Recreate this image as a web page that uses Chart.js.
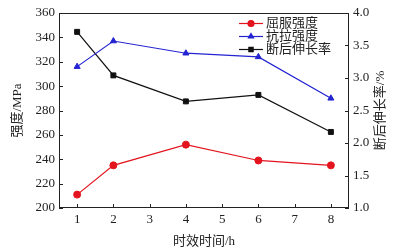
<!DOCTYPE html>
<html lang="zh-CN">
<head>
<meta charset="UTF-8">
<title>时效时间与力学性能</title>
<script src="https://cdn.jsdelivr.net/npm/chart.js"></script>
<style>
  html, body { margin:0; padding:0; background:#fff; }
  #wrap { width:399px; height:249px; }
</style>
</head>
<body>
<div id="wrap"><canvas id="chart" width="399" height="249"></canvas></div>
<script>
// 数据
const agingHours      = [1, 2, 4, 6, 8];
const yieldStrength   = [211, 235, 252, 239, 235];
const tensileStrength = [316, 337, 327, 324, 290];
const elongation      = [3.71, 3.04, 2.64, 2.74, 2.17];
const xTicks          = [1, 2, 3, 4, 5, 6, 7, 8];
const seriesNames     = ['屈服强度', '抗拉强度', '断后伸长率'];

const RED = '#e3141e', BLUE = '#2323d2', BLACK = '#111';
const SERIF = "'Liberation Serif', 'Noto Sans CJK SC', serif";
const CJK = "'Liberation Serif', 'Noto Sans CJK SC', sans-serif";

const pts = ys => agingHours.map((x, i) => ({ x: x, y: ys[i] }));

// 边框、内向刻度、右轴标题、图例
const framePlugin = {
  id: 'frame',
  afterDraw(chart) {
    const ctx = chart.ctx, a = chart.chartArea;
    const sx = chart.scales.x, sy = chart.scales.y, sy1 = chart.scales.y1;
    ctx.save();
    ctx.strokeStyle = '#222';
    ctx.lineWidth = 1;
    ctx.strokeRect(a.left + 0.5, a.top + 0.5, a.right - a.left - 1, a.bottom - a.top - 1);
    ctx.beginPath();
    sx.ticks.forEach(t => {
      const px = Math.round(sx.getPixelForValue(t.value)) + 0.5;
      ctx.moveTo(px, a.bottom); ctx.lineTo(px, a.bottom - 4);
    });
    sy.ticks.forEach(t => {
      const py = Math.round(sy.getPixelForValue(t.value)) + 0.5;
      ctx.moveTo(a.left, py); ctx.lineTo(a.left + 4, py);
    });
    sy1.ticks.forEach(t => {
      const py = Math.round(sy1.getPixelForValue(t.value)) + 0.5;
      ctx.moveTo(a.right, py); ctx.lineTo(a.right - 4, py);
    });
    ctx.stroke();

    // 右轴标题
    ctx.fillStyle = '#222';
    ctx.font = '13px ' + CJK;
    ctx.textAlign = 'center';
    ctx.textBaseline = 'middle';
    ctx.translate(381, (a.top + a.bottom) / 2);
    ctx.rotate(-Math.PI / 2);
    ctx.fillText('断后伸长率/%', 0, 0);
    ctx.restore();

    // 图例
    ctx.save();
    const rows = [23, 36, 49];
    chart.data.datasets.forEach((ds, i) => {
      const y = rows[i] + 0.5;
      ctx.strokeStyle = ds.borderColor;
      ctx.fillStyle = ds.borderColor;
      ctx.lineWidth = 1.2;
      ctx.beginPath(); ctx.moveTo(239, y); ctx.lineTo(263, y); ctx.stroke();
      Chart.helpers.drawPoint(ctx, { pointStyle: ds.pointStyle, radius: 3, borderWidth: 1 }, 251, y);
      ctx.fill();
      ctx.fillStyle = '#222';
      ctx.font = '13px ' + CJK;
      ctx.textAlign = 'left';
      ctx.textBaseline = 'middle';
      ctx.fillText(ds.label, 266, y);
    });
    ctx.restore();
  }
};

const lineSet = (label, data, color, style, axis) => ({
  label: label, data: data, yAxisID: axis,
  borderColor: color, backgroundColor: color,
  borderWidth: 1.2, pointStyle: style, pointRadius: 3.5,
  pointBorderWidth: 1, tension: 0
});

const noGrid = { display: false, drawTicks: false, tickLength: 0 };

new Chart(document.getElementById('chart'), {
  type: 'line',
  data: {
    datasets: [
      lineSet(seriesNames[0], pts(yieldStrength), RED, 'circle', 'y'),
      lineSet(seriesNames[1], pts(tensileStrength), BLUE, 'triangle', 'y'),
      lineSet(seriesNames[2], pts(elongation), BLACK, 'rect', 'y1')
    ]
  },
  options: {
    responsive: false,
    animation: false,
    layout: { padding: { top: 13, left: 0, right: 0, bottom: 0 } },
    plugins: { legend: { display: false }, tooltip: { enabled: false } },
    scales: {
      x: {
        type: 'linear', min: 0.5, max: 8.5,
        afterBuildTicks: s => { s.ticks = xTicks.map(v => ({ value: v })); },
        afterFit: s => { s.height = 41; },
        grid: noGrid,
        border: { display: false },
        ticks: { color: '#222', font: { family: SERIF, size: 13 }, padding: 4, maxRotation: 0 },
        title: { display: true, text: '时效时间/h', color: '#222', font: { family: CJK, size: 13 }, padding: { top: 6, bottom: 0 } }
      },
      y: {
        position: 'left', min: 200, max: 360,
        ticks: { stepSize: 20, color: '#222', font: { family: SERIF, size: 13 }, padding: 4 },
        afterFit: s => { s.width = 59; },
        grid: noGrid,
        border: { display: false },
        title: { display: true, text: '强度/MPa', color: '#222', font: { family: CJK, size: 13 }, padding: { top: 10, bottom: 0 } }
      },
      y1: {
        position: 'right', min: 1, max: 4,
        ticks: { stepSize: 0.5, color: '#222', font: { family: SERIF, size: 13 }, padding: 4,
                 callback: v => Number(v).toFixed(1) },
        afterFit: s => { s.width = 50; },
        grid: noGrid,
        border: { display: false }
      }
    }
  },
  plugins: [framePlugin]
});
</script>
</body>
</html>
